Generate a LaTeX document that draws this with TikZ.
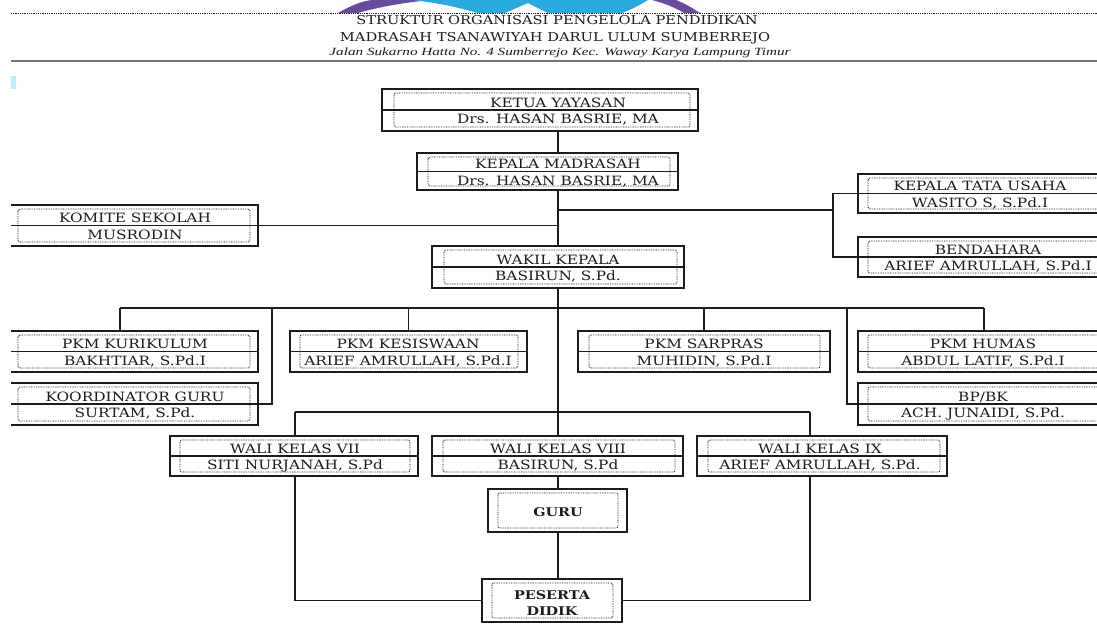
\documentclass[tikz,border=0pt]{standalone}
\usepackage{fontspec}
\setmainfont{DejaVu Serif}[FakeStretch=1.2]
\newfontfamily\addrfont{Liberation Serif}[FakeStretch=1.38]
\definecolor{ink}{HTML}{1C1C1C}
\definecolor{logopurple}{HTML}{6A4C9C}
\definecolor{logocyan}{HTML}{2AA9DF}
\tikzset{
  x=1pt, y=-1pt,
  outerbox/.style={draw=ink, line width=1.4pt, shape=rectangle, inner sep=0pt, outer sep=0pt},
  innerdot/.style={draw=ink, line width=0.8pt, dash pattern=on 0.8pt off 0.9pt, rounded corners=2pt},
  conn/.style={draw=ink, line width=1.4pt},
  txt/.style={anchor=base, inner sep=0pt, text=ink, font=\fontsize{12.8}{14}\selectfont},
  boldtxt/.style={txt, font=\fontsize{12}{14}\selectfont\bfseries},
  ttl/.style={anchor=base, inner sep=0pt, text=ink, font=\fontsize{12.2}{14}\selectfont},
}
\newcommand{\OrgBox}[8]{%
  \node[outerbox, minimum width={(#4)-(#2)}, minimum height={(#5)-(#3)}] (#1) at ({((#2)+(#4))/2},{((#3)+(#5))/2}) {};
  \draw[innerdot] (#6,{(#3)+4}) rectangle (#7,{(#5)-4});
  \coordinate (#1-t) at (#8,{((#3)+(#5))/2});
}
\newcommand{\TwoLine}[3]{%
  \draw[conn] (#1.west) -- (#1.east);
  \node[txt, yshift=3pt] (#1-a) at (#1-t) {#2};
  \node[txt, yshift=-13.5pt] (#1-b) at (#1-t) {#3};
}
\begin{document}
\begin{tikzpicture}
\useasboundingbox (0,0) rectangle (1097,633);
\fill[white] (0,0) rectangle (1097,633);
\begin{scope}
\clip (11,0) rectangle (1097,633);
% logo fragment
\fill[logopurple] (338,13) .. controls (350,6) and (362,1) .. (372,0) -- (430,0) .. controls (400,3) and (375,8) .. (358,13) -- cycle;
\fill[logocyan] (412,0) -- (648,0) .. controls (640,5) and (630,10) .. (622,13) -- (548,13) -- (528,3) -- (505,13) -- (478,13) .. controls (460,8) and (440,3) .. cycle;
\fill[logopurple] (652,0) -- (676,0) .. controls (686,4) and (694,9) .. (700,13) -- (684,13) .. controls (676,8) and (664,3) .. cycle;
% header rules
\draw[ink, line width=0.9pt, dash pattern=on 0.9pt off 0.9pt] (11,13.5) -- (1097,13.5);
\draw[line width=2.6pt, color=black!55] (11,61) -- (1097,61);
\fill[blue!30!cyan!25] (11,76) rectangle (16,89);
% title
\node[ttl] (t1) at (557,24) {STRUKTUR ORGANISASI PENGELOLA PENDIDIKAN};
\node[ttl] (t2) at (555,41) {MADRASAH TSANAWIYAH DARUL ULUM SUMBERREJO};
\node[anchor=base, inner sep=0pt, text=ink, font=\addrfont\itshape\fontsize{11}{12}\selectfont] (t3) at (560,55) {Jalan Sukarno Hatta No. 4 Sumberrejo Kec. Waway Karya Lampung Timur};

% boxes
\OrgBox{ketua}{382}{89}{698}{131}{394}{690}{558}
\OrgBox{kepala}{417}{153}{678}{190}{428}{670}{558}
\OrgBox{komite}{-5}{205}{258}{246}{18}{250}{135}
\OrgBox{ktu}{858}{174}{1115}{213}{868}{1108}{980}
\OrgBox{bendahara}{858}{237}{1115}{277}{868}{1108}{988}
\OrgBox{wakil}{432}{246}{684}{288}{444}{677}{558}
\OrgBox{kurikulum}{-5}{331}{258}{372}{18}{250}{135}
\OrgBox{koordinator}{-5}{383}{258}{425}{18}{250}{135}
\OrgBox{kesiswaan}{290}{331}{527}{372}{300}{518}{408}
\OrgBox{sarpras}{578}{331}{830}{372}{589}{820}{704}
\OrgBox{humas}{858}{331}{1115}{372}{868}{1108}{983}
\OrgBox{bpbk}{858}{383}{1115}{425}{868}{1108}{983}
\OrgBox{wali7}{170}{436}{418}{476}{180}{410}{295}
\OrgBox{wali8}{432}{436}{683}{476}{443}{675}{558}
\OrgBox{wali9}{697}{436}{947}{476}{708}{940}{820}
\OrgBox{guru}{488}{489}{627}{532}{498}{618}{558}
\OrgBox{peserta}{482}{579}{622}{622}{492}{613}{552}

\TwoLine{ketua}{KETUA YAYASAN}{Drs. HASAN BASRIE, MA}
\TwoLine{kepala}{KEPALA MADRASAH}{Drs. HASAN BASRIE, MA}
\TwoLine{komite}{KOMITE SEKOLAH}{MUSRODIN}
\TwoLine{ktu}{KEPALA TATA USAHA}{WASITO S, S.Pd.I}
\TwoLine{bendahara}{BENDAHARA}{ARIEF AMRULLAH, S.Pd.I}
\TwoLine{wakil}{WAKIL KEPALA}{BASIRUN, S.Pd.}
\TwoLine{kurikulum}{PKM KURIKULUM}{BAKHTIAR, S.Pd.I}
\TwoLine{koordinator}{KOORDINATOR GURU}{SURTAM, S.Pd.}
\TwoLine{kesiswaan}{PKM KESISWAAN}{ARIEF AMRULLAH, S.Pd.I}
\TwoLine{sarpras}{PKM SARPRAS}{MUHIDIN, S.Pd.I}
\TwoLine{humas}{PKM HUMAS}{ABDUL LATIF, S.Pd.I}
\TwoLine{bpbk}{BP/BK}{ACH. JUNAIDI, S.Pd.}
\TwoLine{wali7}{WALI KELAS VII}{SITI NURJANAH, S.Pd}
\TwoLine{wali8}{WALI KELAS VIII}{BASIRUN, S.Pd}
\TwoLine{wali9}{WALI KELAS IX}{ARIEF AMRULLAH, S.Pd.}
\node[boldtxt] (guru-a) at (558,516) {GURU};
\node[boldtxt] (peserta-a) at (552,599) {PESERTA};
\node[boldtxt] (peserta-b) at (552,615) {DIDIK};

% connectors
\coordinate (spine) at (558,0);
\draw[conn] (spine |- ketua.south) -- (spine |- kepala.north);
\draw[conn] (spine |- kepala.south) -- (spine |- wakil.north);
\draw[conn] (komite.east) -- (spine |- komite.east);
\coordinate (sbr) at (833,210);
\draw[conn] (spine |- sbr) -- (sbr);
\draw[conn] (ktu.west) -- (ktu.west -| sbr) -- (bendahara.west -| sbr) -- (bendahara.west);
% first bus
\coordinate (busL) at (120,308);
\coordinate (busR) at (984,308);
\coordinate (kj) at (272,308);
\coordinate (bj) at (847,308);
\draw[conn] (spine |- wakil.south) -- (spine |- busL);
\draw[conn] (busL) -- (busR);
\draw[conn] (busL) -- (busL |- kurikulum.north);
\draw[conn] (kj) -- (kj |- koordinator.east) -- (koordinator.east);
\draw[conn] (kesiswaan.north |- busL) -- (kesiswaan.north);
\draw[conn] (sarpras.north |- busL) -- (sarpras.north);
\draw[conn] (busR) -- (busR |- humas.north);
\draw[conn] (bj) -- (bj |- bpbk.west) -- (bpbk.west);
% second bus
\coordinate (bus2L) at (295,412);
\coordinate (bus2R) at (810,412);
\draw[conn] (spine |- busL) -- (spine |- bus2L);
\draw[conn] (bus2L) -- (bus2R);
\draw[conn] (bus2L) -- (bus2L |- wali7.north);
\draw[conn] (spine |- bus2L) -- (spine |- wali8.north);
\draw[conn] (bus2R) -- (bus2R |- wali9.north);
\draw[conn] (spine |- wali8.south) -- (spine |- guru.north);
\draw[conn] (spine |- guru.south) -- (spine |- peserta.north);
\draw[conn] (bus2L |- wali7.south) -- (bus2L |- peserta.west) -- (peserta.west);
\draw[conn] (bus2R |- wali9.south) -- (bus2R |- peserta.east) -- (peserta.east);
\end{scope}
\end{tikzpicture}
\end{document}
